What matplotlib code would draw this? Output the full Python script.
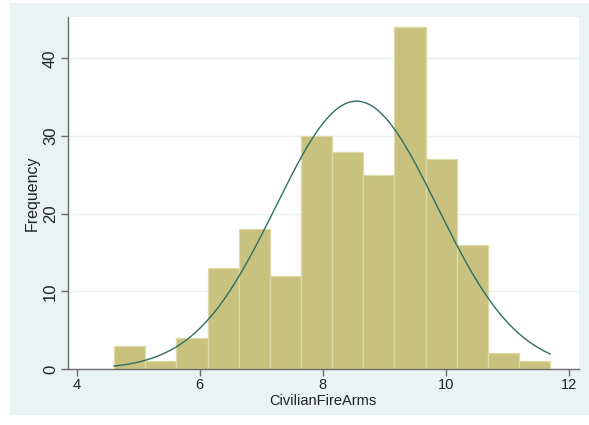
import numpy as np
import matplotlib
matplotlib.use("Agg")
import matplotlib.pyplot as plt
from matplotlib.patches import Rectangle

# Data
bin_start = 4.607
bin_width = 0.5067
counts = [3, 1, 4, 13, 18, 12, 30, 28, 25, 44, 27, 16, 2, 1]
mean_val = 8.55
sd_val = 1.3125
x_ticks = [4, 6, 8, 10, 12]
y_ticks = [0, 10, 20, 30, 40]

plt.rcParams['font.family'] = ['Liberation Sans', 'DejaVu Sans']

fig = plt.figure(figsize=(5.89, 4.25), dpi=100)
fig.patch.set_facecolor('white')
bg = Rectangle((10/589, (425-415)/425), (589-10)/589, (415-3)/425,
               transform=fig.transFigure, facecolor='#eaf2f3', edgecolor='none', zorder=-10)
fig.patches.append(bg)

ax = fig.add_axes([67.7/589, (425-369)/425, (578.7-67.7)/589, (369-17.3)/425])
ax.set_facecolor('white')

n = len(counts)
edges = bin_start + bin_width*np.arange(n+1)
ax.bar(edges[:-1], counts, width=bin_width, align='edge',
       color='#c9c27f', edgecolor='#dedaa8', linewidth=0.9, zorder=2)

N = sum(counts)
xs = np.linspace(edges[0], edges[-1], 400)
ys = N*bin_width/(sd_val*np.sqrt(2*np.pi))*np.exp(-0.5*((xs-mean_val)/sd_val)**2)
ax.plot(xs, ys, color='#2f6f66', linewidth=1.0, zorder=3)

ax.set_xlim(3.853, 12.163)
ax.set_ylim(0, 45.3)
ax.set_xticks(x_ticks)
ax.set_yticks(y_ticks)
ax.yaxis.grid(True, color='#eaf2f3', linewidth=1.0, zorder=0)
ax.set_axisbelow(True)
for s in ['top', 'right']:
    ax.spines[s].set_visible(False)
for s in ['left', 'bottom']:
    ax.spines[s].set_color('#6b6b6b')
    ax.spines[s].set_linewidth(1.0)
    ax.spines[s].set_zorder(4)
ax.tick_params(axis='both', direction='out', length=5, width=1.0, color='#6b6b6b',
               labelcolor='#222222')
ax.tick_params(axis='x', labelsize=10.5, pad=1.5)
ax.tick_params(axis='y', labelsize=12, pad=2)
for lab in ax.get_yticklabels():
    lab.set_rotation(90)
    lab.set_va('center')
ax.set_xlabel('CivilianFireArms', fontsize=10.5, color='#222222', labelpad=1.5)
ax.set_ylabel('Frequency', fontsize=11.5, color='#222222', labelpad=2.5)

fig.savefig('out.png', dpi=100, facecolor=fig.get_facecolor())
